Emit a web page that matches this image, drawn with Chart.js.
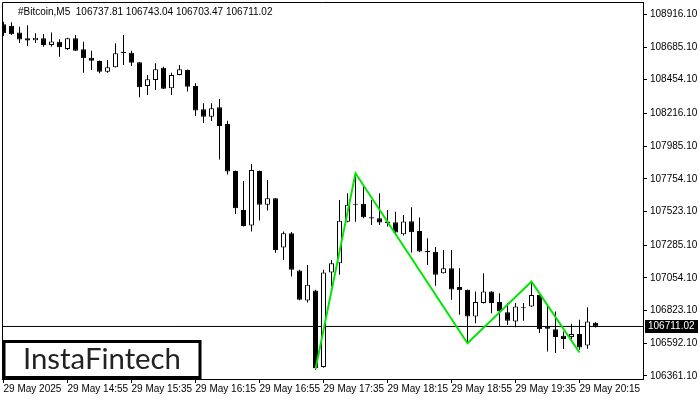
<!DOCTYPE html>
<html>
<head>
<meta charset="utf-8">
<script src="https://cdn.jsdelivr.net/npm/chart.js@4.4.0/dist/chart.umd.min.js"></script>
<style>
  html, body { margin: 0; padding: 0; background: #fff; }
  #wrap { width: 700px; height: 400px; }
</style>
</head>
<body>
<div id="wrap"><canvas id="chart" width="700" height="400"></canvas></div>
<script>
const symbol = '#Bitcoin,M5';

// M5 candles, 29 May 2025 14:15 .. 20:25
const opens = [108845, 108836, 108788, 108747, 108732, 108747, 108699, 108723, 108671, 108747,
  108669, 108610, 108586, 108511, 108542, 108645, 108645, 108577, 108410, 108452,
  108539, 108394, 108488, 108523, 108410, 108245, 108193, 108260, 108142, 107810,
  107534, 107424, 107810, 107570, 107617, 107268, 107370, 107106, 106894, 106965,
  106424, 107092, 107158, 107450, 107576, 107577, 107483, 107476, 107452, 107448,
  107363, 107454, 107386, 107246, 107238, 107087, 107123, 106989, 106970, 106781,
  106876, 106958, 106883, 106812, 106746, 106847, 106852, 106934, 106711, 106692,
  106645, 106636, 106657, 106576, 106737.81];
const highs = [108864, 108860, 108829, 108838, 108782, 108777, 108788, 108740, 108750, 108770,
  108723, 108659, 108590, 108593, 108711, 108770, 108659, 108580, 108488, 108570,
  108546, 108504, 108558, 108526, 108429, 108288, 108288, 108318, 108165, 107812,
  107739, 107859, 107812, 107746, 107619, 107381, 107379, 107111, 107146, 106970,
  107111, 107181, 107605, 107652, 107793, 107699, 107605, 107652, 107534, 107522,
  107499, 107554, 107481, 107335, 107273, 107252, 107252, 107123, 106972, 106958,
  107087, 106960, 106946, 106876, 106876, 106876, 107028, 106936, 106857, 106816,
  106675, 106730, 106758, 106847, 106743.04];
const lows = [108763, 108770, 108713, 108692, 108713, 108687, 108687, 108617, 108664, 108657,
  108504, 108523, 108499, 108504, 108540, 108558, 108551, 108330, 108346, 108382,
  108389, 108346, 108486, 108370, 108198, 108149, 108163, 107891, 107785, 107506,
  107417, 107381, 107459, 107530, 107231, 107181, 107064, 106897, 106880, 106405,
  106419, 106993, 107076, 107448, 107450, 107476, 107428, 107428, 107417, 107358,
  107353, 107233, 107236, 107146, 106998, 107085, 106899, 106793, 106593, 106734,
  106874, 106805, 106711, 106722, 106706, 106751, 106850, 106664, 106534, 106523,
  106551, 106617, 106546, 106553, 106703.47];
const closes = [108782, 108775, 108738, 108731, 108751, 108699, 108724, 108683, 108747, 108659,
  108605, 108588, 108511, 108542, 108641, 108648, 108574, 108401, 108457, 108528,
  108391, 108488, 108528, 108405, 108236, 108193, 108252, 108127, 107805, 107546,
  107421, 107817, 107570, 107617, 107252, 107370, 107111, 106899, 107005, 106417,
  107092, 107158, 107457, 107570, 107573, 107483, 107473, 107445, 107440, 107374,
  107452, 107376, 107240, 107235, 107076, 107123, 106973, 106967, 106781, 106883,
  106958, 106876, 106816, 106751, 106852, 106840, 106934, 106692, 106694, 106636,
  106622, 106657, 106562, 106746, 106711.02];

// pattern (green polyline): candle index and price
const patternIdx = [39, 44, 58, 66, 72];
const patternVal = [106410, 107793, 106592, 107028, 106527];

const yTicks = [108916.10, 108685.10, 108454.10, 108216.10, 107985.10, 107754.10,
  107523.10, 107285.10, 107054.10, 106823.10, 106592.10, 106361.10];
const xTickIdx = [0, 8, 16, 24, 32, 40, 48, 56, 64, 72];
const xTickLabels = ['29 May 2025', '29 May 14:55', '29 May 15:35', '29 May 16:15', '29 May 16:55',
  '29 May 17:35', '29 May 18:15', '29 May 18:55', '29 May 19:35', '29 May 20:15'];

const xMin = -0.1875, xMax = 79.9375;
const yMin = 106339.9, yMax = 109003.0;

const wicks = lows.map((l, i) => ({ x: i, y: [l, highs[i]] }));
const bodies = opens.map((o, i) => {
  let lo = Math.min(o, closes[i]), hi = Math.max(o, closes[i]);
  if (hi - lo < 7) { const m = (hi + lo) / 2; lo = m - 3.5; hi = m + 3.5; }
  return { x: i, y: [lo, hi] };
});
const bodyFill = opens.map((o, i) => closes[i] >= o ? '#ffffff' : '#000000');
const last = opens.length - 1;

const font = { family: '"Liberation Sans", Arial, sans-serif', size: 10 };

const overlay = {
  id: 'overlay',
  afterDraw(chart) {
    const { ctx, chartArea: a } = chart;
    const y = chart.scales.y;
    ctx.save();
    // frame top / left
    ctx.strokeStyle = '#000';
    ctx.lineWidth = 1;
    ctx.beginPath();
    ctx.moveTo(a.left + 0.5, a.bottom);
    ctx.lineTo(a.left + 0.5, a.top + 0.5);
    ctx.lineTo(a.right, a.top + 0.5);
    ctx.stroke();

    // header
    ctx.font = '10px "Liberation Sans", Arial, sans-serif';
    ctx.fillStyle = '#000';
    ctx.textBaseline = 'alphabetic';
    ctx.textAlign = 'left';
    const ohlc = [opens[last], highs[last], lows[last], closes[last]].map(v => v.toFixed(2)).join(' ');
    ctx.fillText(symbol + '  ' + ohlc, 18, 15);

    // current price label
    const py = Math.round(y.getPixelForValue(closes[last]));
    ctx.fillStyle = '#000';
    ctx.fillRect(645, py - 6, 53, 13);
    ctx.fillStyle = '#fff';
    ctx.textBaseline = 'middle';
    ctx.fillText(closes[last].toFixed(2), 648, py + 0.5);

    // logo
    ctx.fillStyle = '#fff';
    ctx.fillRect(4, 341, 196, 37);
    ctx.lineWidth = 3;
    ctx.strokeStyle = '#000';
    ctx.strokeRect(4, 341.5, 196, 36);
    ctx.fillStyle = '#222';
    ctx.textBaseline = 'alphabetic';
    ctx.font = '400 28px Lato, "Noto Sans", sans-serif';
    const w = ctx.measureText('InstaFintech').width;
    const fs = 28 * 158 / w;
    ctx.font = '400 ' + fs.toFixed(2) + 'px Lato, "Noto Sans", sans-serif';
    ctx.fillText('InstaFintech', 23, 369);
    ctx.restore();
  }
};

new Chart(document.getElementById('chart'), {
  type: 'bar',
  data: {
    datasets: [
      {
        type: 'line',
        data: patternIdx.map((x, i) => ({ x, y: patternVal[i] })),
        borderColor: '#00e600',
        borderWidth: 2,
        pointRadius: 0,
        fill: false,
        order: 0
      },
      {
        data: bodies,
        backgroundColor: bodyFill,
        borderColor: '#000',
        borderWidth: 1,
        borderSkipped: false,
        barThickness: 5,
        inflateAmount: 0,
        grouped: false,
        order: 1
      },
      {
        data: wicks,
        backgroundColor: '#000',
        borderWidth: 0,
        barThickness: 1,
        inflateAmount: 0,
        grouped: false,
        order: 2
      },
      {
        type: 'line',
        data: [{ x: xMin, y: closes[last] }, { x: xMax, y: closes[last] }],
        borderColor: '#000',
        borderWidth: 1,
        pointRadius: 0,
        fill: false,
        order: 3
      }
    ]
  },
  options: {
    responsive: false,
    animation: false,
    layout: { padding: { left: 2, top: 2, right: 0, bottom: 0 } },
    plugins: { legend: { display: false }, tooltip: { enabled: false } },
    scales: {
      x: {
        type: 'linear',
        min: xMin,
        max: xMax,
        offset: false,
        bounds: 'data',
        grid: { offset: false, drawOnChartArea: false, drawTicks: true, tickLength: 4, color: '#000' },
        border: { display: true, color: '#000', width: 1 },
        ticks: {
          autoSkip: false, maxRotation: 0, minRotation: 0, align: 'start', padding: 0,
          color: '#000', font,
          callback: (v) => xTickLabels[xTickIdx.indexOf(v)]
        },
        afterBuildTicks: (s) => { s.ticks = xTickIdx.map(v => ({ value: v })); },
        afterFit: (s) => { s.height = 21; s.paddingLeft = 0; s.paddingRight = 0; }
      },
      y: {
        type: 'linear',
        position: 'right',
        min: yMin,
        max: yMax,
        beginAtZero: false,
        bounds: 'data',
        grid: { drawOnChartArea: false, drawTicks: true, tickLength: 4, color: '#000' },
        border: { display: true, color: '#000', width: 1 },
        ticks: {
          padding: 3, color: '#000', font,
          callback: (v) => Number(v).toFixed(2)
        },
        afterBuildTicks: (s) => { s.ticks = yTicks.map(v => ({ value: v })); },
        afterFit: (s) => { s.width = 57; s.paddingTop = 0; s.paddingBottom = 0; }
      }
    }
  },
  plugins: [overlay]
});
</script>
</body>
</html>
